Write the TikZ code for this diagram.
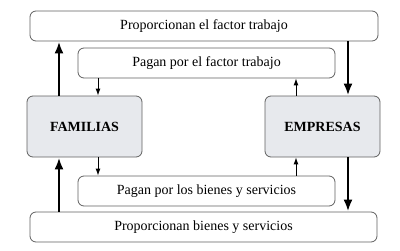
\documentclass[tikz,border=0pt]{standalone}
\usepackage{fontspec}
\setmainfont{Liberation Serif}
\usetikzlibrary{arrows.meta,positioning}

\tikzset{
  flowbox/.style={draw=gray!75!black,line width=.8pt,rounded corners=6pt,fill=white,
    font=\fontsize{14}{16}\selectfont,inner sep=0pt},
  agentbox/.style={flowbox,fill=agentfill,font=\fontsize{14}{16}\selectfont\bfseries,
    minimum width=115pt,minimum height=61pt},
  realflow/.style={line width=2.8pt,-{Latex[length=12pt,width=9pt]}},
  moneyflow/.style={line width=1pt,-{Latex[length=7pt,width=5pt]}}
}
\definecolor{agentfill}{RGB}{231,233,237}

\begin{document}
\begin{tikzpicture}[x=1pt,y=-1pt]
  \useasboundingbox (0,0) rectangle (400,250);

  \node[flowbox,minimum width=348pt,minimum height=30pt] (trabajo) at (204,26) {Proporcionan el factor trabajo};
  \node[flowbox,minimum width=257pt,minimum height=30pt] (pagotrabajo) at (206.5,63) {Pagan por el factor trabajo};
  \node[agentbox] (familias) at (84.5,126.5) {FAMILIAS};
  \node[agentbox] (empresas) at (322.5,126.5) {EMPRESAS};
  \node[flowbox,minimum width=257pt,minimum height=30pt] (pagobienes) at (206.5,191) {Pagan por los bienes y servicios};
  \node[flowbox,minimum width=347pt,minimum height=30pt] (bienes) at (203.5,227) {Proporcionan bienes y servicios};

  \coordinate (xa) at (59,0);
  \coordinate (xb) at (98,0);
  \coordinate (xc) at (296,0);
  \coordinate (xd) at (348,0);

  \draw[realflow] (familias.north -| xa) -- (trabajo.south -| xa);
  \draw[moneyflow] (pagotrabajo.south -| xb) -- (familias.north -| xb);
  \draw[moneyflow] (empresas.north -| xc) -- (pagotrabajo.south -| xc);
  \draw[realflow] (trabajo.south -| xd) -- (empresas.north -| xd);

  \draw[realflow] (bienes.north -| xa) -- (familias.south -| xa);
  \draw[moneyflow] (familias.south -| xb) -- (pagobienes.north -| xb);
  \draw[moneyflow] (pagobienes.north -| xc) -- (empresas.south -| xc);
  \draw[realflow] (empresas.south -| xd) -- (bienes.north -| xd);
\end{tikzpicture}
\end{document}
